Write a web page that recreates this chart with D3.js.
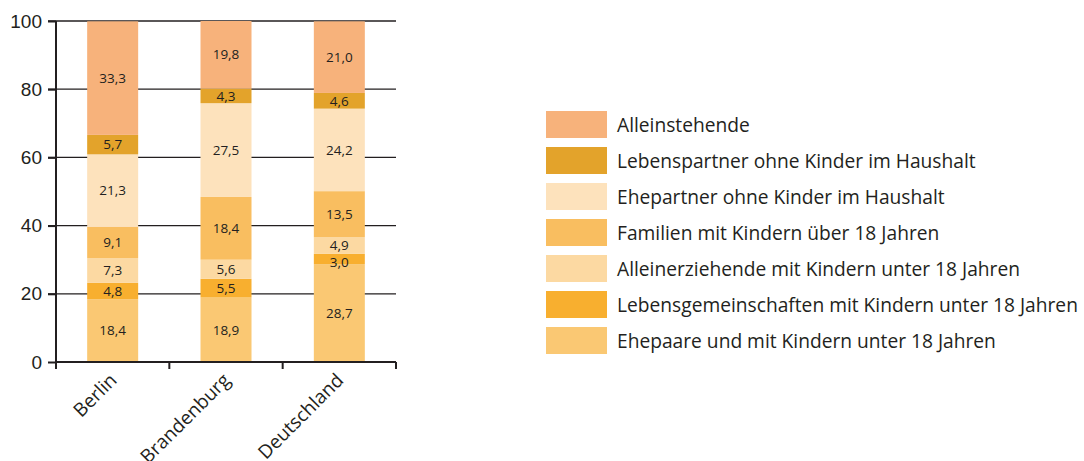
<!DOCTYPE html>
<html>
<head>
<meta charset="utf-8">
<script src="https://cdn.jsdelivr.net/npm/d3@7"></script>
<style>
  body { margin: 0; background: #fff; }
  svg { font-family: "Open Sans", sans-serif; }
  .grid line { stroke: #231f20; stroke-width: 1.3; }
  .axis path, .axis line { stroke: #231f20; stroke-width: 2; }
  .axis text { fill: #231f20; }
  .val { font-size: 13.5px; fill: #231f20; }
  .legend text { font-size: 19.2px; fill: #231f20; }
</style>
</head>
<body>
<script>
// Regionen
var regions = ["Berlin", "Brandenburg", "Deutschland"];

// Haushaltsformen, von unten nach oben gestapelt
var series = [
  "Ehepaare und mit Kindern unter 18 Jahren",
  "Lebensgemeinschaften mit Kindern unter 18 Jahren",
  "Alleinerziehende mit Kindern unter 18 Jahren",
  "Familien mit Kindern über 18 Jahren",
  "Ehepartner ohne Kinder im Haushalt",
  "Lebenspartner ohne Kinder im Haushalt",
  "Alleinstehende"
];

var colors = ["#fac873", "#f8af2f", "#fcd9a2", "#f9be60", "#fde2bc", "#e3a32b", "#f7b27b"];

// Werte in % (je Region, gleiche Reihenfolge wie series)
var berlin      = [18.4, 4.8, 7.3, 9.1, 21.3, 5.7, 33.3];
var brandenburg = [18.9, 5.5, 5.6, 18.4, 27.5, 4.3, 19.8];
var deutschland = [28.7, 3.0, 4.9, 13.5, 24.2, 4.6, 21.0];

var yTicks = [0, 20, 40, 60, 80, 100];

var values = [berlin, brandenburg, deutschland];

var data = regions.map(function(r, i) {
  var row = {region: r};
  series.forEach(function(s, j) { row[s] = values[i][j]; });
  return row;
});

var margin = {top: 21, left: 56},
    width = 340,
    height = 341;

var svg = d3.select("body").append("svg")
    .attr("width", 1084)
    .attr("height", 461);

var g = svg.append("g")
    .attr("transform", "translate(" + margin.left + "," + margin.top + ")");

var x = d3.scaleBand().domain(regions).range([0, width]).paddingInner(0.55).paddingOuter(0.275);
var xAxisScale = d3.scaleBand().domain(regions).range([0, width]);
var y = d3.scaleLinear().domain([0, 100]).range([height, 0]);

// Gitterlinien
g.append("g")
    .attr("class", "grid")
  .selectAll("line")
  .data(yTicks.filter(function(d) { return d > 0; }))
  .enter().append("line")
    .attr("x1", -8)
    .attr("x2", width)
    .attr("y1", function(d) { return y(d); })
    .attr("y2", function(d) { return y(d); });

// Stapel
var stack = d3.stack().keys(series);
var layers = stack(data);

var layer = g.selectAll(".layer")
  .data(layers)
  .enter().append("g")
    .attr("class", "layer")
    .attr("fill", function(d, i) { return colors[i]; });

layer.selectAll("rect")
  .data(function(d) { return d; })
  .enter().append("rect")
    .attr("x", function(d) { return x(d.data.region); })
    .attr("width", x.bandwidth())
    .attr("y", function(d) { return y(d[1]); })
    .attr("height", function(d) { return y(d[0]) - y(d[1]); });

// Werte; sehr schmale Segmente etwas nach unten schieben, damit nichts kollidiert
layer.selectAll("text")
  .data(function(d) { return d; })
  .enter().append("text")
    .attr("class", "val")
    .attr("x", function(d) { return x(d.data.region) + x.bandwidth() / 2; })
    .attr("y", function(d) {
      var yy = y((d[0] + d[1]) / 2);
      if (d[1] - d[0] < 3.5) yy += 3;
      return yy;
    })
    .attr("dy", "0.35em")
    .attr("text-anchor", "middle")
    .text(function(d) { return d3.format(".1f")(d[1] - d[0]).replace(".", ","); });

// Y-Achse
var yAxis = g.append("g")
    .attr("class", "axis")
    .call(d3.axisLeft(y).tickValues(yTicks).tickSize(8).tickPadding(6));
yAxis.select(".domain").attr("d", "M0," + height + "V0");
yAxis.selectAll("text").style("font-size", "19px");

// X-Achse
var xAxis = g.append("g")
    .attr("class", "axis")
    .attr("transform", "translate(0," + height + ")");
xAxis.append("path")
    .attr("d", "M0,0H" + width)
    .attr("stroke", "#231f20").attr("stroke-width", 2);
xAxis.selectAll(".tick")
  .data(d3.range(regions.length + 1))
  .enter().append("line")
    .attr("x1", function(i) { return i * xAxisScale.step(); })
    .attr("x2", function(i) { return i * xAxisScale.step(); })
    .attr("y1", 0)
    .attr("y2", 7);
xAxis.selectAll(".lbl")
  .data(regions)
  .enter().append("text")
    .attr("class", "lbl")
    .attr("transform", function(d) {
      return "translate(" + (x(d) + x.bandwidth() / 2 - 4) + ",10) rotate(-45)";
    })
    .attr("text-anchor", "end")
    .attr("dy", "0.7em")
    .style("font-size", "19px")
    .text(function(d) { return d; });

// Legende
var legend = svg.append("g")
    .attr("class", "legend")
    .attr("transform", "translate(546,111)");

var items = legend.selectAll("g")
  .data(series.slice().reverse())
  .enter().append("g")
    .attr("transform", function(d, i) { return "translate(0," + (i * 36) + ")"; });

items.append("rect")
    .attr("width", 61)
    .attr("height", 27)
    .attr("fill", function(d) { return colors[series.indexOf(d)]; });

items.append("text")
    .attr("x", 71)
    .attr("y", 14)
    .attr("dy", "0.35em")
    .text(function(d) { return d; });
</script>
</body>
</html>
